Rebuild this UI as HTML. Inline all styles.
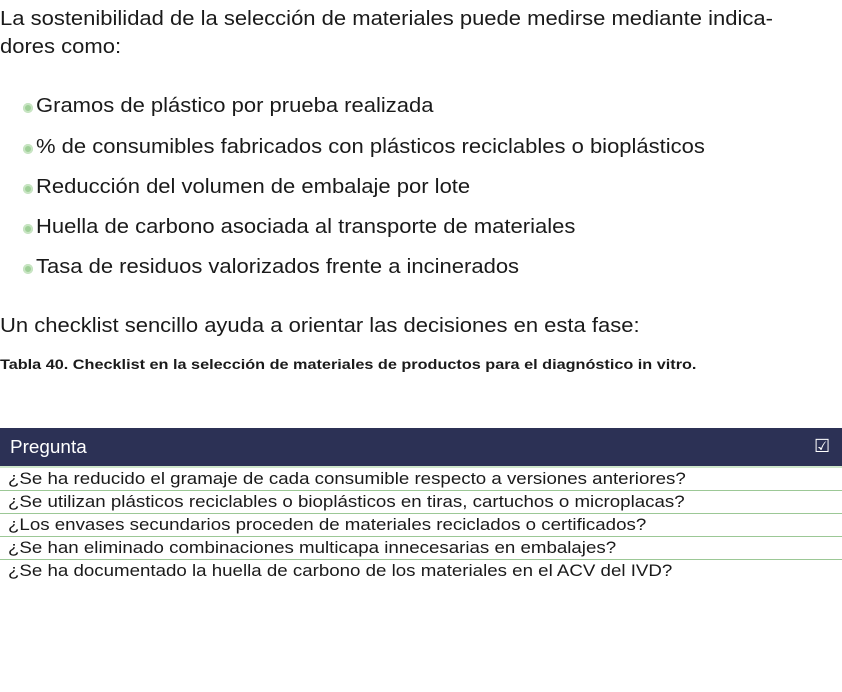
<!DOCTYPE html>
<html><head><meta charset="utf-8"><style>
body{margin:0;width:842px;height:692px;background:#fff;position:relative;font-family:"Liberation Sans",sans-serif;color:#1a1a1a;overflow:hidden}
.t{position:absolute;white-space:nowrap;transform-origin:0 0}
.p{font-size:20px;font-weight:300;transform:scaleX(1.1)}
.q{font-size:17px;transform:scaleX(1.1);left:8px}
.dot{position:absolute;width:10px;height:10px;border-radius:50%;background:#9fcf98;box-shadow:inset 0 0 0 2px #c8e5c3}
.row{position:absolute;left:0;width:842px;border-bottom:1px solid #9cc896}
</style></head><body>
<div class="t p" style="left:0;top:8px;">La sostenibilidad de la selección de materiales puede medirse mediante indica-</div>
<div class="t p" style="left:0;top:36px;">dores como:</div>

<div class="dot" style="left:23px;top:103px"></div><div class="t p" style="left:36px;top:95px;">Gramos de plástico por prueba realizada</div>
<div class="dot" style="left:23px;top:144px"></div><div class="t p" style="left:36px;top:136px;">% de consumibles fabricados con plásticos reciclables o bioplásticos</div>
<div class="dot" style="left:23px;top:184px"></div><div class="t p" style="left:36px;top:176px;">Reducción del volumen de embalaje por lote</div>
<div class="dot" style="left:23px;top:224px"></div><div class="t p" style="left:36px;top:216px;">Huella de carbono asociada al transporte de materiales</div>
<div class="dot" style="left:23px;top:264px"></div><div class="t p" style="left:36px;top:256px;">Tasa de residuos valorizados frente a incinerados</div>

<div class="t p" style="left:0;top:315px;">Un checklist sencillo ayuda a orientar las decisiones en esta fase:</div>
<div class="t" style="left:0;top:356px;font-size:14px;font-weight:bold;transform:scaleX(1.16)">Tabla 40. Checklist en la selección de materiales de productos para el diagnóstico in vitro.</div>

<div style="position:absolute;left:0;top:428px;width:842px;height:38px;background:#2c3155;border-bottom:2px solid #cfe6cb"></div>
<div class="t" style="left:10px;top:437px;color:#fff;font-size:18px;transform:scaleX(1.05)">Pregunta</div>
<div class="t" style="left:814px;top:436px;color:#fff;font-size:18px">☑</div>

<div class="row" style="top:468px;height:22px"></div>
<div class="t q" style="top:469px">¿Se ha reducido el gramaje de cada consumible respecto a versiones anteriores?</div>
<div class="row" style="top:491px;height:22px"></div>
<div class="t q" style="top:492px">¿Se utilizan plásticos reciclables o bioplásticos en tiras, cartuchos o microplacas?</div>
<div class="row" style="top:514px;height:22px"></div>
<div class="t q" style="top:515px">¿Los envases secundarios proceden de materiales reciclados o certificados?</div>
<div class="row" style="top:537px;height:22px"></div>
<div class="t q" style="top:538px">¿Se han eliminado combinaciones multicapa innecesarias en embalajes?</div>
<div class="t q" style="top:561px">¿Se ha documentado la huella de carbono de los materiales en el ACV del IVD?</div>
</body></html>
